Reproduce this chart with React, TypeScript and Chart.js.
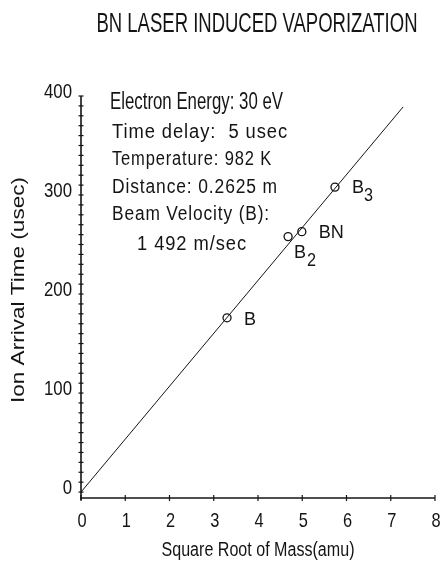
import React, { useEffect, useRef } from "react";
import { Chart, registerables } from "chart.js";

Chart.register(...registerables);

// ---- data ----
const sqrtMass = [3.3, 4.68, 4.99, 5.74];
const arrivalTime = [176, 258, 263, 308];
const pointNames = ["B", "B", "BN", "B"];
const pointSubs = ["", "2", "", "3"];
const fitX = [0, 7.28];
const fitY = [0, 389];
const xTicks = [0, 1, 2, 3, 4, 5, 6, 7, 8];
const yTicks = [0, 100, 200, 300, 400];
const yMinorStep = 10;
const titleText = "BN LASER INDUCED VAPORIZATION";
const xTitle = "Square Root of Mass(amu)";
const yTitle = "Ion Arrival Time (usec)";
const infoLines = [
  "Electron Energy: 30 eV",
  "Time delay:  5 usec",
  "Temperature: 982 K",
  "Distance: 0.2625 m",
  "Beam Velocity (B):",
  "1 492 m/sec",
];

// ---- styles ----
const FONT = '"Liberation Sans", Arial, sans-serif';
const INK = "#141414";
// label offsets relative to each point [dx, dy, subDx, subDy]
const labelOffsets = [
  [17, 2, 0, 0],
  [6, 16, 13, 24],
  [17, 1, 0, 0],
  [17, 1, 12, 9],
];
// info lines: [x, y, fontSize, width]
const infoStyle = [
  [110, 103, 23, 173],
  [112, 132, 20, 176],
  [112, 159, 20, 160],
  [112, 187, 20, 166],
  [112, 214, 20, 158],
  [137, 244, 20, 110],
];

function drawText(
  ctx: CanvasRenderingContext2D,
  text: string,
  x: number,
  y: number,
  size: number,
  opts: { width?: number; sx?: number; align?: CanvasTextAlign; rotate?: boolean; spacing?: number }
) {
  ctx.save();
  ctx.font = `${size}px ${FONT}`;
  // @ts-ignore
  if (opts.spacing) ctx.letterSpacing = `${opts.spacing}px`;
  const w = ctx.measureText(text).width;
  const sx = opts.width ? opts.width / w : opts.sx ?? 1;
  ctx.translate(x, y);
  if (opts.rotate) ctx.rotate(-Math.PI / 2);
  ctx.scale(sx, 1);
  ctx.fillStyle = INK;
  ctx.textBaseline = "middle";
  ctx.textAlign = opts.align ?? "left";
  ctx.fillText(text, 0, 0);
  ctx.restore();
}

const decorPlugin = {
  id: "decor",
  afterDatasetsDraw(chart: any) {
    const { ctx, chartArea, scales } = chart;
    const xs = scales.x;
    const ys = scales.y;
    const x0 = xs.getPixelForValue(0);
    const yb = ys.getPixelForValue(ys.min);
    const yt = ys.getPixelForValue(400);
    const xr = xs.getPixelForValue(8);
    ctx.save();
    ctx.strokeStyle = INK;
    // axes
    ctx.lineWidth = 1.6;
    ctx.beginPath();
    ctx.moveTo(x0, yt);
    ctx.lineTo(x0, yb + 2);
    ctx.stroke();
    ctx.lineWidth = 1.4;
    ctx.beginPath();
    ctx.moveTo(x0, yb);
    ctx.lineTo(xr, yb);
    ctx.stroke();
    // y minor ticks
    ctx.lineWidth = 1.2;
    for (let v = 0; v <= 400; v += yMinorStep) {
      const py = ys.getPixelForValue(v);
      ctx.beginPath();
      ctx.moveTo(x0 - 2.5, py);
      ctx.lineTo(x0 + 2.5, py);
      ctx.stroke();
    }
    // x ticks
    for (const v of xTicks) {
      const px = xs.getPixelForValue(v);
      ctx.beginPath();
      ctx.moveTo(px, yb - 3);
      ctx.lineTo(px, yb + 3);
      ctx.stroke();
    }
    ctx.restore();
    // tick labels
    for (const v of yTicks) {
      drawText(ctx, String(v), x0 - 9, ys.getPixelForValue(v) - 4, 21, { sx: 0.8, align: "right" });
    }
    for (const v of xTicks) {
      drawText(ctx, String(v), xs.getPixelForValue(v) + 1, 521, 21, { sx: 0.78, align: "center" });
    }
    // titles
    const cx = (chartArea.left + chartArea.right) / 2;
    drawText(ctx, titleText, cx - 1, 25, 27, { width: 321, align: "center" });
    drawText(ctx, xTitle, cx, 550, 20, { width: 193, align: "center" });
    drawText(ctx, yTitle, 19, 290, 18, { width: 226, align: "center", rotate: true });
    // info text
    infoLines.forEach((t, i) => {
      const [x, y, s, w] = infoStyle[i];
      drawText(ctx, t, x, y, s, { width: w, spacing: i === 0 ? 0 : 1 });
    });
    // point labels
    const meta = chart.getDatasetMeta(1);
    meta.data.forEach((el: any, i: number) => {
      const [dx, dy, sdx, sdy] = labelOffsets[i];
      drawText(ctx, pointNames[i], el.x + dx, el.y + dy, 19, { sx: 0.95 });
      if (pointSubs[i]) {
        drawText(ctx, pointSubs[i], el.x + dx + sdx, el.y + sdy, 18, { sx: 0.9 });
      }
    });
  },
};

export default function App() {
  const ref = useRef<HTMLCanvasElement>(null);
  useEffect(() => {
    if (!ref.current) return;
    const chart = new Chart(ref.current, {
      type: "scatter",
      data: {
        datasets: [
          {
            data: fitX.map((x, i) => ({ x, y: fitY[i] })),
            showLine: true,
            borderColor: INK,
            borderWidth: 1,
            pointRadius: 0,
          },
          {
            data: sqrtMass.map((x, i) => ({ x, y: arrivalTime[i] })),
            showLine: false,
            pointRadius: 4,
            pointBorderWidth: 1.3,
            pointBorderColor: INK,
            pointBackgroundColor: "rgba(0,0,0,0)",
          },
        ],
      },
      options: {
        animation: false,
        responsive: true,
        maintainAspectRatio: false,
        layout: { padding: { left: 81, right: 9, top: 96, bottom: 75 } },
        plugins: { legend: { display: false }, tooltip: { enabled: false }, title: { display: false } },
        scales: {
          x: { type: "linear", min: 0, max: 8, display: false },
          y: { type: "linear", min: -6, max: 400, display: false },
        },
      },
      plugins: [decorPlugin],
    });
    return () => chart.destroy();
  }, []);
  return (
    <div style={{ position: "fixed", left: 0, top: 0, width: 444, height: 573, background: "#fff" }}>
      <canvas ref={ref} />
    </div>
  );
}
